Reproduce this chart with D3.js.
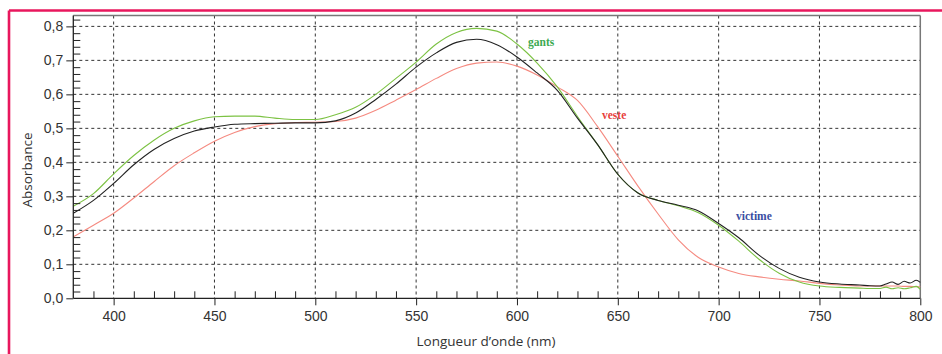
<!DOCTYPE html>
<html>
<head>
<meta charset="utf-8">
<script src="https://cdn.jsdelivr.net/npm/d3@7"></script>
<style>
  html, body { margin: 0; padding: 0; background: #fff; }
  svg { display: block; }
</style>
</head>
<body>
<svg id="chart" width="942" height="354"></svg>
<script>
// ---- data ----
const wavelengths = [380,390,400,410,420,430,440,450,460,470,480,490,500,510,520,530,540,550,560,570,580,590,600,610,620,630,640,650,660,670,680,690,700,710,720,730,740,750,760,770,775,780,783,786,789,792,795,798,800];
const victime = [0.25,0.288,0.338,0.393,0.438,0.47,0.492,0.504,0.512,0.514,0.515,0.516,0.516,0.522,0.545,0.585,0.63,0.68,0.722,0.753,0.762,0.746,0.71,0.663,0.612,0.53,0.452,0.365,0.31,0.288,0.274,0.257,0.22,0.178,0.127,0.088,0.062,0.048,0.042,0.039,0.037,0.036,0.042,0.048,0.041,0.05,0.045,0.053,0.047];
const gants   = [0.271,0.308,0.366,0.42,0.465,0.5,0.522,0.534,0.536,0.536,0.53,0.526,0.526,0.54,0.562,0.6,0.647,0.695,0.748,0.782,0.794,0.786,0.748,0.692,0.622,0.535,0.452,0.365,0.31,0.288,0.272,0.252,0.215,0.168,0.115,0.074,0.048,0.036,0.032,0.03,0.029,0.029,0.033,0.028,0.031,0.028,0.031,0.035,0.026];
const veste   = [0.181,0.215,0.25,0.295,0.343,0.39,0.428,0.462,0.488,0.505,0.514,0.517,0.518,0.52,0.53,0.553,0.583,0.614,0.647,0.676,0.692,0.695,0.683,0.657,0.622,0.582,0.505,0.418,0.33,0.248,0.172,0.12,0.092,0.073,0.063,0.056,0.051,0.044,0.039,0.036,0.036,0.036,0.036,0.036,0.036,0.035,0.035,0.034,0.034];
const seriesNames = ["gants","veste","victime"];
const xMajorTicks = [400,450,500,550,600,650,700,750,800];
const yMajorTicks = [0,0.1,0.2,0.3,0.4,0.5,0.6,0.7,0.8];
const xTitle = "Longueur d\u2019onde (nm)";
const yTitle = "Absorbance";

// ---- layout ----
const svg = d3.select("#chart");
const pL = 73.3, pR = 920.3, pT = 15.5, pB = 298.3;
const x = d3.scaleLinear().domain([380, 800]).range([pL, pR]);
const y = d3.scaleLinear().domain([0, 0.832]).range([pB, pT]);

const colors = { gants: "#7cc243", veste: "#f58a80", victime: "#222222" };
const labelColors = { gants: "#3daa52", veste: "#e8403c", victime: "#3a4ea2" };

// pink page border (top & left)
svg.append("line").attr("x1", 9).attr("x2", 942).attr("y1", 10.5).attr("y2", 10.5)
  .attr("stroke", "#e8175d").attr("stroke-width", 2.6);
svg.append("line").attr("x1", 9).attr("x2", 9).attr("y1", 10.5).attr("y2", 354)
  .attr("stroke", "#e8175d").attr("stroke-width", 2.6);

// gridlines
const grid = svg.append("g");
grid.selectAll("line.h").data(yMajorTicks.filter(d => d > 0)).join("line")
  .attr("x1", pL).attr("x2", pR)
  .attr("y1", d => y(d)).attr("y2", d => y(d))
  .attr("stroke", "#333").attr("stroke-width", 1).attr("stroke-dasharray", "3,3");
grid.selectAll("line.v").data(xMajorTicks.filter(d => d < 800)).join("line")
  .attr("x1", d => x(d)).attr("x2", d => x(d))
  .attr("y1", pT).attr("y2", pB)
  .attr("stroke", "#333").attr("stroke-width", 1).attr("stroke-dasharray", "3,3");

// frame top & right (grey)
svg.append("line").attr("x1", pL).attr("x2", pR).attr("y1", pT).attr("y2", pT)
  .attr("stroke", "#777").attr("stroke-width", 1.5);
svg.append("line").attr("x1", pR).attr("x2", pR).attr("y1", pT).attr("y2", pB)
  .attr("stroke", "#777").attr("stroke-width", 1.5);

// curves
const line = d3.line().x((d, i) => x(wavelengths[i])).y(d => y(d)).curve(d3.curveMonotoneX);
const dataBy = { gants, veste, victime };
["veste", "gants", "victime"].forEach(name => {
  svg.append("path").datum(dataBy[name])
    .attr("fill", "none").attr("stroke", colors[name]).attr("stroke-width", 1.1)
    .attr("d", line);
});

// axes
const axisFont = "'Liberation Sans', Arial, sans-serif";
const xAxis = svg.append("g").attr("transform", `translate(0,${pB})`)
  .call(d3.axisBottom(x).tickValues(xMajorTicks).tickSize(7).tickPadding(6).tickFormat(d3.format("d")));
const xMinor = svg.append("g").attr("transform", `translate(0,${pB})`)
  .call(d3.axisTop(x).tickValues(d3.range(390, 800, 10).filter(v => v % 50 !== 0)).tickSize(7).tickFormat(""));
xMinor.select(".domain").remove();

const yAxis = svg.append("g").attr("transform", `translate(${pL},0)`)
  .call(d3.axisLeft(y).tickValues(yMajorTicks).tickSize(7).tickPadding(3)
    .tickFormat(d => d3.format(".1f")(d).replace(".", ",")));
const yMinor = svg.append("g").attr("transform", `translate(${pL},0)`)
  .call(d3.axisRight(y).tickValues(d3.range(0.02, 0.83, 0.02).filter(v => Math.abs(v*10 - Math.round(v*10)) > 0.01)).tickSize(7).tickFormat(""));
yMinor.select(".domain").remove();

[xAxis, yAxis, xMinor, yMinor].forEach(g => {
  g.selectAll(".domain").attr("stroke", "#222").attr("stroke-width", 1.3);
  g.selectAll(".tick line").attr("stroke", "#222").attr("stroke-width", 1);
  g.selectAll(".tick text").attr("font-family", axisFont).attr("font-size", 14).attr("fill", "#333");
});
xAxis.select(".domain").attr("d", `M${pL},0H${pR}`);
yAxis.select(".domain").attr("d", `M0,${pT}V${pB}`);

// axis titles
svg.append("text").attr("x", 486).attr("y", 346)
  .attr("text-anchor", "middle").attr("font-family", "'Open Sans', sans-serif")
  .attr("font-size", 13.5).attr("fill", "#333").text(xTitle);
svg.append("text").attr("transform", "translate(32,170) rotate(-90)")
  .attr("text-anchor", "middle").attr("font-family", "'Open Sans', sans-serif")
  .attr("font-size", 13.5).attr("fill", "#333").text(yTitle);

// series labels
const labelAt = { gants: [528, 0.742], veste: [602, 0.528], victime: [736, 0.23] };
seriesNames.forEach(name => {
  svg.append("text").attr("x", labelAt[name][0]).attr("y", y(labelAt[name][1]))
    .attr("font-family", "'Liberation Serif', 'DejaVu Serif', serif").attr("font-weight", "bold")
    .attr("font-size", 11.5).attr("fill", labelColors[name]).text(name);
});
</script>
</body>
</html>
